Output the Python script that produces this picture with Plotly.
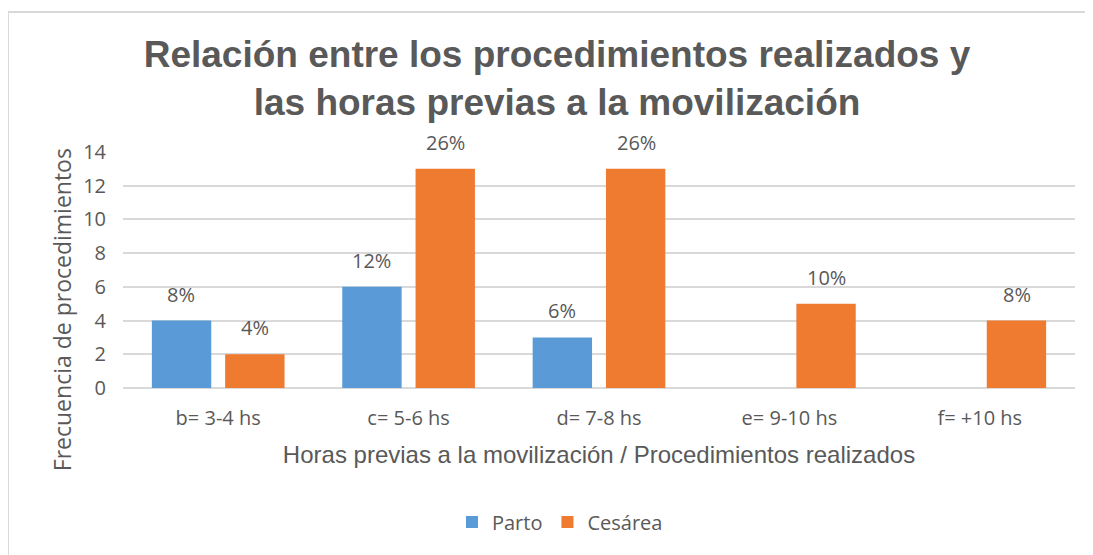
import plotly.graph_objects as go

categories = ["b= 3-4 hs", "c= 5-6 hs", "d= 7-8 hs", "e= 9-10 hs", "f= +10 hs"]
parto = [4, 6, 3, 0, 0]
cesarea = [2, 13, 13, 5, 4]
parto_labels = ["8%", "12%", "6%", "", ""]
cesarea_labels = ["4%", "26%", "26%", "10%", "8%"]
y_ticks = [0, 2, 4, 6, 8, 10, 12, 14]

GRAY = "#595959"
BLUE = "#5A9AD6"
ORANGE = "#EE7B30"

fig = go.Figure()
fig.add_trace(go.Bar(name="Parto", x=categories, y=parto, marker=dict(color=BLUE, line=dict(width=0))))
fig.add_trace(go.Bar(name="Cesárea", x=categories, y=cesarea, marker=dict(color=ORANGE, line=dict(width=0))))

label_font = dict(family="Open Sans", size=20, color=GRAY)
annotations = []
for cat, v, t in zip(categories, parto, parto_labels):
    if t:
        annotations.append(dict(x=cat, y=v, text=t, xref="x", yref="y", showarrow=False,
                                xshift=-37, yshift=11, yanchor="bottom", font=label_font))
for cat, v, t in zip(categories, cesarea, cesarea_labels):
    if t:
        annotations.append(dict(x=cat, y=v, text=t, xref="x", yref="y", showarrow=False,
                                xshift=37, yshift=11, yanchor="bottom", font=label_font))

# y-axis title (centred on the chart area as in the original)
annotations.append(dict(text="Frecuencia de procedimientos", xref="paper", yref="paper",
                        x=-0.064, y=0.33, xanchor="center", yanchor="middle", textangle=-90,
                        showarrow=False, font=dict(family="Open Sans", size=23, color=GRAY)))

fig.update_layout(
    width=1085, height=547,
    margin=dict(l=115, r=18, t=144, b=167),
    paper_bgcolor="white", plot_bgcolor="white",
    barmode="group", bargap=0.23, bargroupgap=0.19,
    title=dict(text="<b>Relación entre los procedimientos realizados y<br>las horas previas a la movilización</b>",
               x=0.506, xanchor="center", y=0.8925, yanchor="top",
               font=dict(family="Liberation Sans", size=37, color=GRAY)),
    xaxis=dict(tickfont=dict(family="Open Sans", size=20, color=GRAY), ticklabelstandoff=16,
               title=dict(text="Horas previas a la movilización / Procedimientos realizados",
                          font=dict(family="Liberation Sans", size=24, color=GRAY), standoff=16),
               showline=False, ticks=""),
    yaxis=dict(range=[0, 14], tickvals=y_ticks, showgrid=True, gridcolor="#D9D9D9", gridwidth=1.5,
               zeroline=True, zerolinecolor="#D9D9D9", zerolinewidth=1.5,
               tickfont=dict(family="Open Sans", size=20, color=GRAY), ticks="", ticklabelstandoff=16),
    legend=dict(orientation="h", x=0.459, xanchor="center", y=-0.568, yanchor="middle",
                font=dict(family="Open Sans", size=20, color=GRAY), itemsizing="constant",
                traceorder="normal"),
    annotations=annotations,
    shapes=[
        dict(type="line", xref="paper", yref="paper", x0=-0.1208, x1=1.03, y0=1.593, y1=1.593,
             line=dict(color="#D9D9D9", width=2)),
        dict(type="line", xref="paper", yref="paper", x0=-0.1208, x1=-0.1208, y0=1.593, y1=-0.71,
             line=dict(color="#D9D9D9", width=2)),
    ],
)

fig.write_html("out.html")
